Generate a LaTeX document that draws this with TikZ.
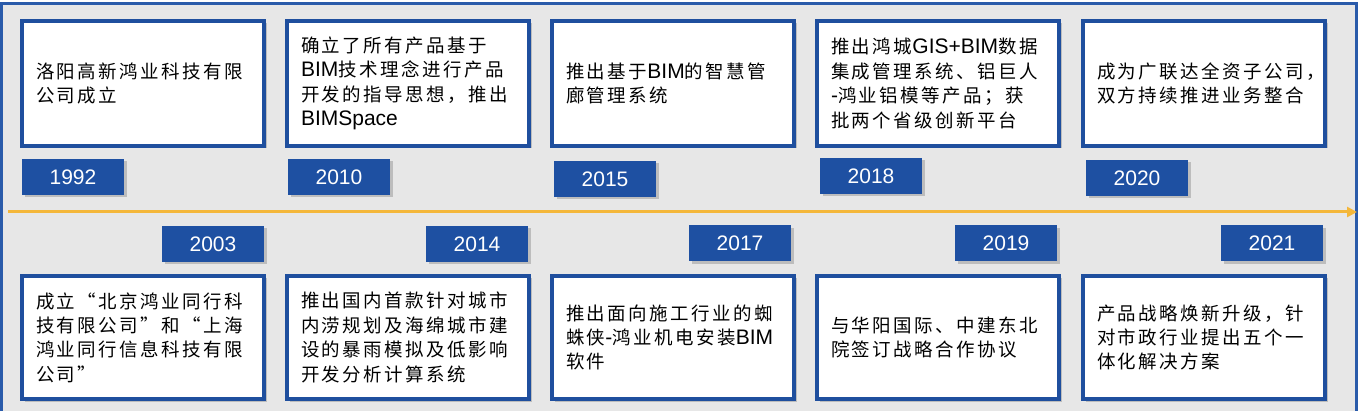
\documentclass[tikz,border=0pt]{standalone}
\usepackage{fontspec}
\setmainfont{Liberation Sans}
\newfontfamily\cjkf[LetterSpace=13.5,Scale=0.88]{Noto Sans CJK SC}
\newcommand\C[1]{{\cjkf #1}}
\usetikzlibrary{arrows.meta,shadows}
\definecolor{bggray}{HTML}{E7E7E7}
\definecolor{frameblue}{HTML}{2A5BAA}
\definecolor{boxblue}{HTML}{1F4F9E}
\definecolor{yearblue}{HTML}{1E50A2}
\definecolor{tlorange}{HTML}{F4B73A}
\tikzset{
  evbox/.style={draw=boxblue, line width=3.2pt, fill=white,
    drop shadow={shadow xshift=2.5pt, shadow yshift=-2.5pt, opacity=0.4},
    minimum width=242pt, minimum height=125pt, text width=214pt,
    inner xsep=14pt, align=left, font=\fontsize{21}{24.4}\selectfont},
  evboxb/.style={evbox, minimum height=123pt},
  yearbox/.style={fill=yearblue, text=white, minimum width=102pt, minimum height=36pt,
    inner sep=0pt, drop shadow={shadow xshift=2.5pt, shadow yshift=-2.5pt, opacity=0.4},
    font=\fontsize{21}{24}\selectfont},
  tlarrow/.style={draw=tlorange, line width=3pt, -{Triangle[length=10pt,width=10pt]}}
}
\begin{document}
\begin{tikzpicture}[x=1pt,y=-1pt]
\useasboundingbox (0,0) rectangle (1367,411);
\clip (0,0) rectangle (1367,411);
\fill[white] (0,0) rectangle (1367,411);
\path[fill=bggray, draw=frameblue, line width=3pt] (1.5,4) rectangle (1356.5,430);

% timeline
\coordinate (tl0) at (8,212);
\coordinate (tl1) at (1357,212);
\draw[tlarrow] (tl0) -- (tl1);

% top row events
\node[evbox] (e1992) at (143,83.5) {\C{洛阳高新鸿业科技有限}\\\C{公司成立}};
\node[evbox] (e2010) at (408,83.5) {\C{确立了所有产品基于}\\BIM\C{技术理念进行产品}\\\C{开发的指导思想，推出}\\BIMSpace};
\node[evbox] (e2015) at (673,83.5) {\C{推出基于}BIM\C{的智慧管}\\\C{廊管理系统}};
\node[evbox] (e2018) at (938,83.5) {\C{推出鸿城}GIS+BIM\C{数据}\\\C{集成管理系统、铝巨人}\\-\C{鸿业铝模等产品；获}\\\C{批两个省级创新平台}};
\node[evbox] (e2020) at (1204,83.5) {\C{成为广联达全资子公司，}\\\C{双方持续推进业务整合}};

% top row years
\node[yearbox] (y1992) at (73,177) {1992};
\node[yearbox] (y2010) at (339,177) {2010};
\node[yearbox] (y2015) at (605,179) {2015};
\node[yearbox] (y2018) at (871,176) {2018};
\node[yearbox] (y2020) at (1137,178) {2020};

% bottom row years
\node[yearbox] (y2003) at (213,244) {2003};
\node[yearbox] (y2014) at (477,244) {2014};
\node[yearbox] (y2017) at (740,243.5) {2017};
\node[yearbox] (y2019) at (1006,243.5) {2019};
\node[yearbox] (y2021) at (1272,243.5) {2021};

% bottom row events
\node[evboxb] (e2003) at (143,337.5) {\C{成立“北京鸿业同行科}\\\C{技有限公司”和“上海}\\\C{鸿业同行信息科技有限}\\\C{公司”}};
\node[evboxb] (e2014) at (408,337.5) {\C{推出国内首款针对城市}\\\C{内涝规划及海绵城市建}\\\C{设的暴雨模拟及低影响}\\\C{开发分析计算系统}};
\node[evboxb] (e2017) at (673,337.5) {\C{推出面向施工行业的蜘}\\\C{蛛侠}-\C{鸿业机电安装}BIM\\\C{软件}};
\node[evboxb] (e2019) at (938,337.5) {\C{与华阳国际、中建东北}\\\C{院签订战略合作协议}};
\node[evboxb] (e2021) at (1204,337.5) {\C{产品战略焕新升级，针}\\\C{对市政行业提出五个一}\\\C{体化解决方案}};
\end{tikzpicture}
\end{document}
